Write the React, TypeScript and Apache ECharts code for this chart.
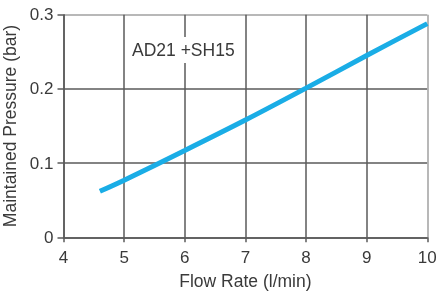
import React, { useEffect, useRef } from "react";
import * as echarts from "echarts";

const flowRate = [4.6, 5, 6, 7, 8, 9, 10];
const pressure = [0.062, 0.077, 0.117, 0.158, 0.201, 0.245, 0.288];
const seriesLabel = "AD21 +SH15";
const xName = "Flow Rate (l/min)";
const yName = "Maintained Pressure (bar)";

const FONT = "'Liberation Sans', Arial, sans-serif";
const TEXT = "#3a3a3a";
const GRID = "#5a5a5a";
const BORDER = "#a0a0a0";

export default function App() {
  const ref = useRef<HTMLDivElement>(null);
  useEffect(() => {
    if (!ref.current) return;
    const chart = echarts.init(ref.current, null, { renderer: "svg" });
    chart.setOption({
      animation: false,
      textStyle: { fontFamily: FONT },
      grid: {
        left: 63.5,
        right: 8.7,
        top: 14.7,
        bottom: 57.7,
        containLabel: false,
        outerBoundsMode: "none",
      },
      xAxis: {
        type: "value",
        min: 4,
        max: 10,
        interval: 1,
        name: xName,
        nameLocation: "middle",
        nameGap: 35,
        nameTextStyle: { color: TEXT, fontSize: 17.5, fontFamily: FONT },
        axisLine: { show: true, lineStyle: { color: GRID, width: 1.5 } },
        axisTick: { show: true, length: 5, lineStyle: { color: GRID, width: 1.5 } },
        axisLabel: { color: TEXT, fontSize: 17, margin: 12, fontFamily: FONT },
        splitLine: {
          show: true,
          lineStyle: { color: [GRID, GRID, GRID, GRID, GRID, GRID, BORDER], width: 1.5 },
        },
      },
      yAxis: {
        type: "value",
        min: 0,
        max: 0.3,
        interval: 0.1,
        name: yName,
        nameLocation: "middle",
        nameGap: 42,
        nameTextStyle: { color: TEXT, fontSize: 17.5, fontFamily: FONT },
        axisLine: { show: true, lineStyle: { color: GRID, width: 1.5 } },
        axisTick: { show: true, length: 6, lineStyle: { color: GRID, width: 1.5 } },
        axisLabel: {
          color: TEXT,
          fontSize: 17,
          margin: 10,
          fontFamily: FONT,
          formatter: (v: number) => String(+v.toFixed(1)),
        },
        splitLine: {
          show: true,
          lineStyle: { color: [GRID, GRID, GRID, BORDER], width: 1.5 },
        },
      },
      graphic: [
        {
          type: "text",
          left: 128,
          top: 37,
          z: 10,
          style: {
            text: seriesLabel,
            fill: TEXT,
            fontSize: 17.5,
            fontFamily: FONT,
            backgroundColor: "#ffffff",
            padding: [4, 3, 4, 4],
          },
        },
      ],
      series: [
        {
          type: "line",
          data: flowRate.map((x, i) => [x, pressure[i]]),
          smooth: 0.3,
          showSymbol: false,
          symbol: "none",
          lineStyle: { color: "#1aade6", width: 5 },
        },
      ],
    });
    return () => chart.dispose();
  }, []);
  return (
    <div
      ref={ref}
      style={{ position: "fixed", left: 0, top: 0, width: 436, height: 295 }}
    />
  );
}
